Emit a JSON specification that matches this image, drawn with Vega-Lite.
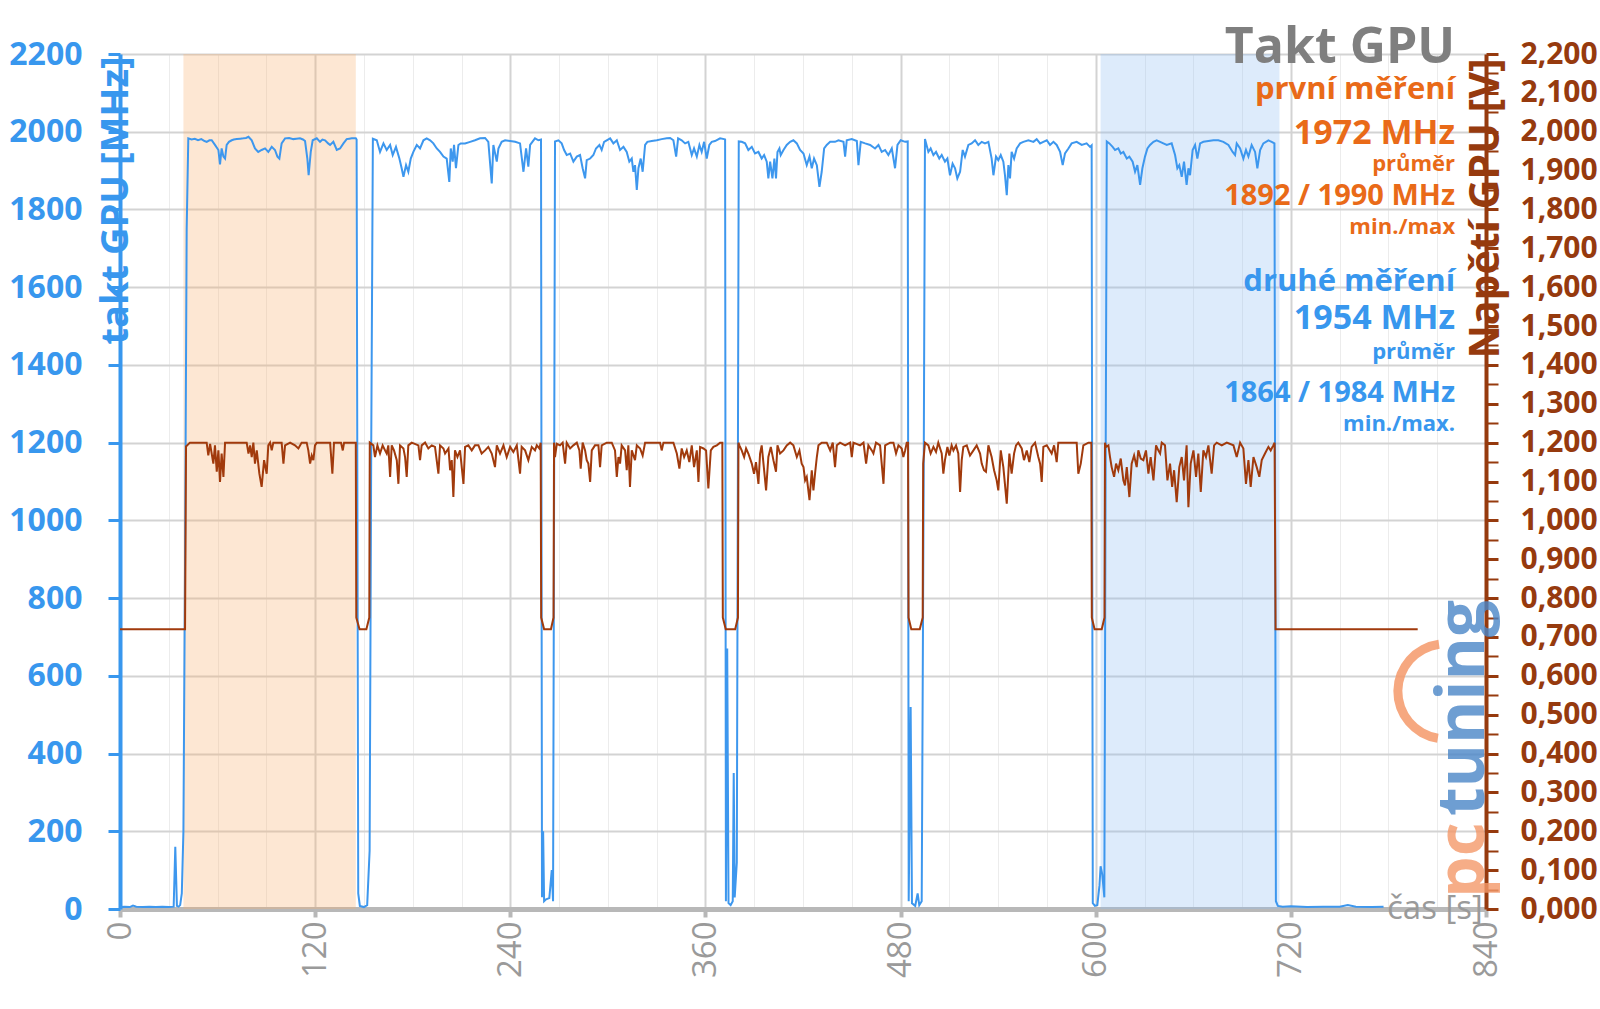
{
"$schema": "https://vega.github.io/schema/vega-lite/v6.json",
"width": 1366, "height": 855,
"autosize": {"type": "none"},
"padding": {"left": 120, "top": 54, "right": 114, "bottom": 100},
"background": "white",
"config": {"view": {"stroke": null}},
"datasets": {
"one": [{}],
"bands": [{"start": 39, "end": 145, "run": "první měření"}, {"start": 603, "end": 713, "run": "druhé měření"}],
"clock": [
{"t":0,"mhz":5},{"t":3,"mhz":6},{"t":6,"mhz":5},{"t":8,"mhz":9},{"t":10,"mhz":6},{"t":14,"mhz":5},{"t":18,"mhz":6},{"t":22,"mhz":5},{"t":26,"mhz":6},{"t":30,"mhz":5},{"t":33,"mhz":6},{"t":34,"mhz":160},{"t":35,"mhz":8},{"t":36,"mhz":6},{"t":37,"mhz":10},{"t":38,"mhz":40},{"t":39,"mhz":200},{"t":40,"mhz":900},{"t":41,"mhz":1750},{"t":42,"mhz":1983},
{"t":44,"mhz":1980},{"t":46,"mhz":1982},{"t":48,"mhz":1978},{"t":50,"mhz":1981},{"t":52,"mhz":1976},{"t":53.3,"mhz":1974},{"t":55,"mhz":1978},{"t":56.4,"mhz":1978},{"t":58.4,"mhz":1966},{"t":60.5,"mhz":1953},{"t":61.5,"mhz":1916},{"t":62.5,"mhz":1957},{"t":63.6,"mhz":1936},{"t":64.6,"mhz":1931},{"t":65.6,"mhz":1966},{"t":67,"mhz":1974},{"t":68.7,"mhz":1978},{"t":70,"mhz":1980},{"t":71.8,"mhz":1981},{"t":74,"mhz":1982},{"t":75.9,"mhz":1983},{"t":77.5,"mhz":1984},{"t":79,"mhz":1987},{"t":81,"mhz":1978},{"t":83,"mhz":1957},{"t":85,"mhz":1948},{"t":87.1,"mhz":1953},{"t":89.2,"mhz":1957},{"t":91.2,"mhz":1948},{"t":93.3,"mhz":1961},{"t":95.3,"mhz":1953},{"t":96.8,"mhz":1936},{"t":98,"mhz":1931},{"t":99.4,"mhz":1970},{"t":101.5,"mhz":1983},{"t":104,"mhz":1984},{"t":106.6,"mhz":1981},{"t":108.5,"mhz":1982},{"t":110.7,"mhz":1983},{"t":112.5,"mhz":1980},{"t":113.8,"mhz":1976},{"t":115.2,"mhz":1931},{"t":116,"mhz":1888},{"t":117.3,"mhz":1948},{"t":118.5,"mhz":1978},{"t":121,"mhz":1983},{"t":123,"mhz":1974},{"t":124.5,"mhz":1980},{"t":126.1,"mhz":1978},{"t":128,"mhz":1970},{"t":129.2,"mhz":1966},{"t":131.2,"mhz":1974},{"t":133.3,"mhz":1953},{"t":135.3,"mhz":1957},{"t":137.4,"mhz":1970},{"t":139.4,"mhz":1981},{"t":141,"mhz":1982},{"t":142.5,"mhz":1983},{"t":145,"mhz":1983},{"t":145.5,"mhz":1980},{"t":146.5,"mhz":40},{"t":147.5,"mhz":8},{"t":150,"mhz":5},{"t":152,"mhz":10},{"t":153.5,"mhz":150},{"t":154.5,"mhz":1200},{"t":155.5,"mhz":1982},
{"t":157.9,"mhz":1978},{"t":159.9,"mhz":1948},{"t":162,"mhz":1970},{"t":164,"mhz":1953},{"t":166.1,"mhz":1966},{"t":167.7,"mhz":1940},{"t":169.7,"mhz":1961},{"t":171.8,"mhz":1931},{"t":173.2,"mhz":1906},{"t":174.3,"mhz":1884},{"t":175.9,"mhz":1914},{"t":177.3,"mhz":1897},{"t":178.8,"mhz":1931},{"t":180.4,"mhz":1948},{"t":182.5,"mhz":1966},{"t":184.5,"mhz":1957},{"t":186.6,"mhz":1978},{"t":188.6,"mhz":1983},{"t":190.7,"mhz":1978},{"t":192.7,"mhz":1970},{"t":194.8,"mhz":1957},{"t":196.8,"mhz":1948},{"t":198.9,"mhz":1936},{"t":200.9,"mhz":1931},{"t":202.5,"mhz":1871},{"t":203.4,"mhz":1957},{"t":204.6,"mhz":1923},{"t":205.4,"mhz":1966},{"t":206.6,"mhz":1906},{"t":208.1,"mhz":1966},{"t":209.5,"mhz":1970},{"t":212.2,"mhz":1970},{"t":215.3,"mhz":1974},{"t":218.3,"mhz":1978},{"t":221.4,"mhz":1983},{"t":224.5,"mhz":1984},{"t":226.5,"mhz":1974},{"t":228.6,"mhz":1867},{"t":229.6,"mhz":1966},{"t":231.7,"mhz":1923},{"t":232.7,"mhz":1957},{"t":234.7,"mhz":1974},{"t":236.8,"mhz":1978},{"t":239.9,"mhz":1976},{"t":243,"mhz":1974},{"t":246,"mhz":1970},{"t":248.1,"mhz":1897},{"t":249.7,"mhz":1957},{"t":251.1,"mhz":1910},{"t":252.2,"mhz":1966},{"t":255.2,"mhz":1983},{"t":257.3,"mhz":1978},{"t":258.9,"mhz":1980},{"t":259.5,"mhz":30},{"t":260.2,"mhz":200},{"t":260.8,"mhz":20},{"t":262,"mhz":25},{"t":264,"mhz":28},{"t":265.5,"mhz":100},{"t":266.3,"mhz":20},{"t":267.5,"mhz":1975},
{"t":269.6,"mhz":1978},{"t":271.6,"mhz":1970},{"t":273.1,"mhz":1953},{"t":274.7,"mhz":1940},{"t":276.8,"mhz":1944},{"t":278.8,"mhz":1923},{"t":280.9,"mhz":1936},{"t":282.9,"mhz":1940},{"t":284.5,"mhz":1906},{"t":286,"mhz":1880},{"t":287,"mhz":1927},{"t":289.1,"mhz":1931},{"t":291.1,"mhz":1940},{"t":292.7,"mhz":1957},{"t":294.8,"mhz":1966},{"t":296.2,"mhz":1953},{"t":297.7,"mhz":1974},{"t":299.3,"mhz":1978},{"t":301.4,"mhz":1983},{"t":303.4,"mhz":1970},{"t":305.5,"mhz":1978},{"t":307.5,"mhz":1953},{"t":309.6,"mhz":1961},{"t":311.6,"mhz":1948},{"t":313.2,"mhz":1923},{"t":314.7,"mhz":1931},{"t":315.7,"mhz":1897},{"t":316.7,"mhz":1914},{"t":317.8,"mhz":1850},{"t":318.8,"mhz":1906},{"t":320.2,"mhz":1931},{"t":321.4,"mhz":1897},{"t":322.9,"mhz":1966},{"t":324.3,"mhz":1974},{"t":327,"mhz":1976},{"t":330.1,"mhz":1978},{"t":333.1,"mhz":1981},{"t":336.2,"mhz":1983},{"t":338.3,"mhz":1984},{"t":340.3,"mhz":1978},{"t":342,"mhz":1936},{"t":343.2,"mhz":1983},{"t":345.4,"mhz":1978},{"t":347.5,"mhz":1970},{"t":349.5,"mhz":1974},{"t":351.6,"mhz":1940},{"t":353,"mhz":1957},{"t":354.7,"mhz":1936},{"t":356.3,"mhz":1966},{"t":357.7,"mhz":1948},{"t":359.2,"mhz":1974},{"t":360.8,"mhz":1931},{"t":362.4,"mhz":1966},{"t":363.9,"mhz":1974},{"t":365.9,"mhz":1976},{"t":369,"mhz":1983},{"t":371.5,"mhz":1981},{"t":372.1,"mhz":1980},{"t":372.6,"mhz":20},{"t":373.4,"mhz":670},{"t":374.2,"mhz":15},{"t":375.5,"mhz":10},{"t":376.8,"mhz":20},{"t":377.4,"mhz":350},{"t":378,"mhz":30},{"t":379.3,"mhz":120},{"t":380.5,"mhz":1975},
{"t":382.3,"mhz":1974},{"t":384.4,"mhz":1970},{"t":386.4,"mhz":1953},{"t":388.5,"mhz":1961},{"t":390.5,"mhz":1944},{"t":392.6,"mhz":1948},{"t":394.6,"mhz":1931},{"t":396.1,"mhz":1940},{"t":397.7,"mhz":1923},{"t":398.7,"mhz":1880},{"t":399.8,"mhz":1923},{"t":401.2,"mhz":1880},{"t":402.4,"mhz":1931},{"t":403.4,"mhz":1880},{"t":404.3,"mhz":1948},{"t":405.5,"mhz":1957},{"t":406.3,"mhz":1940},{"t":408,"mhz":1953},{"t":410,"mhz":1966},{"t":412.1,"mhz":1974},{"t":414.1,"mhz":1978},{"t":416.2,"mhz":1970},{"t":418.2,"mhz":1953},{"t":420.3,"mhz":1944},{"t":422.3,"mhz":1914},{"t":424,"mhz":1936},{"t":425.4,"mhz":1906},{"t":426.8,"mhz":1931},{"t":428.5,"mhz":1914},{"t":430.1,"mhz":1858},{"t":431.5,"mhz":1897},{"t":433,"mhz":1957},{"t":434.6,"mhz":1966},{"t":436.7,"mhz":1974},{"t":439.7,"mhz":1974},{"t":441.8,"mhz":1978},{"t":444.9,"mhz":1974},{"t":445.9,"mhz":1936},{"t":446.9,"mhz":1978},{"t":450,"mhz":1981},{"t":453.1,"mhz":1976},{"t":454.1,"mhz":1914},{"t":455.5,"mhz":1974},{"t":458.2,"mhz":1970},{"t":461.3,"mhz":1966},{"t":464.3,"mhz":1957},{"t":466.4,"mhz":1966},{"t":468.4,"mhz":1948},{"t":470.5,"mhz":1953},{"t":472.5,"mhz":1940},{"t":474.6,"mhz":1957},{"t":476.6,"mhz":1906},{"t":478.1,"mhz":1966},{"t":480.1,"mhz":1978},{"t":482.8,"mhz":1974},{"t":484.4,"mhz":1975},{"t":485,"mhz":20},{"t":486.2,"mhz":520},{"t":487,"mhz":15},{"t":489,"mhz":8},{"t":490.5,"mhz":40},{"t":491.5,"mhz":10},{"t":493,"mhz":20},{"t":494.3,"mhz":1200},{"t":495,"mhz":1981},
{"t":497.1,"mhz":1948},{"t":498.5,"mhz":1957},{"t":500.2,"mhz":1940},{"t":501.8,"mhz":1948},{"t":503.8,"mhz":1931},{"t":505.3,"mhz":1940},{"t":507.3,"mhz":1923},{"t":508.8,"mhz":1931},{"t":510.4,"mhz":1888},{"t":512,"mhz":1918},{"t":513.5,"mhz":1906},{"t":514.9,"mhz":1880},{"t":516.6,"mhz":1897},{"t":518.2,"mhz":1953},{"t":519.6,"mhz":1936},{"t":521.7,"mhz":1966},{"t":523.7,"mhz":1970},{"t":525.8,"mhz":1978},{"t":527.8,"mhz":1966},{"t":529.9,"mhz":1974},{"t":531.9,"mhz":1970},{"t":534,"mhz":1974},{"t":536,"mhz":1931},{"t":537.1,"mhz":1888},{"t":538.7,"mhz":1936},{"t":540.1,"mhz":1927},{"t":541.6,"mhz":1940},{"t":543.2,"mhz":1923},{"t":544.2,"mhz":1888},{"t":545.3,"mhz":1837},{"t":546.3,"mhz":1914},{"t":547.3,"mhz":1880},{"t":548.3,"mhz":1948},{"t":549.8,"mhz":1931},{"t":551.4,"mhz":1957},{"t":553.5,"mhz":1970},{"t":555.5,"mhz":1974},{"t":558.6,"mhz":1978},{"t":561.7,"mhz":1974},{"t":563.7,"mhz":1981},{"t":565.8,"mhz":1970},{"t":567.8,"mhz":1974},{"t":569.9,"mhz":1978},{"t":571.9,"mhz":1966},{"t":574,"mhz":1974},{"t":576,"mhz":1966},{"t":578.1,"mhz":1948},{"t":579.7,"mhz":1914},{"t":581.1,"mhz":1944},{"t":583.2,"mhz":1957},{"t":585.2,"mhz":1970},{"t":588.3,"mhz":1974},{"t":591.4,"mhz":1966},{"t":594.4,"mhz":1970},{"t":596.5,"mhz":1961},{"t":597.5,"mhz":1965},{"t":598.2,"mhz":15},{"t":599.5,"mhz":8},{"t":601,"mhz":10},{"t":602.3,"mhz":60},{"t":603,"mhz":110},{"t":604,"mhz":90},{"t":605.3,"mhz":30},{"t":606,"mhz":1000},{"t":606.8,"mhz":1975},
{"t":608.4,"mhz":1970},{"t":610.4,"mhz":1961},{"t":611.9,"mhz":1953},{"t":613.9,"mhz":1957},{"t":615.4,"mhz":1944},{"t":617,"mhz":1948},{"t":619.1,"mhz":1931},{"t":620.7,"mhz":1936},{"t":622.7,"mhz":1923},{"t":624.2,"mhz":1897},{"t":625.6,"mhz":1914},{"t":627.3,"mhz":1863},{"t":628.7,"mhz":1906},{"t":630.3,"mhz":1936},{"t":631.8,"mhz":1957},{"t":633.4,"mhz":1966},{"t":635.5,"mhz":1974},{"t":637.5,"mhz":1978},{"t":639.6,"mhz":1974},{"t":641.6,"mhz":1970},{"t":643.7,"mhz":1966},{"t":646.7,"mhz":1970},{"t":648.8,"mhz":1940},{"t":650.2,"mhz":1906},{"t":651.4,"mhz":1914},{"t":652.9,"mhz":1884},{"t":654.3,"mhz":1923},{"t":655.9,"mhz":1863},{"t":657,"mhz":1906},{"t":658,"mhz":1888},{"t":659.6,"mhz":1953},{"t":661.1,"mhz":1966},{"t":662.5,"mhz":1931},{"t":664.2,"mhz":1970},{"t":666.2,"mhz":1974},{"t":669.3,"mhz":1976},{"t":672.4,"mhz":1978},{"t":675.4,"mhz":1978},{"t":678.5,"mhz":1974},{"t":681.6,"mhz":1966},{"t":684.2,"mhz":1948},{"t":685.7,"mhz":1940},{"t":686.7,"mhz":1970},{"t":688.8,"mhz":1957},{"t":690.8,"mhz":1931},{"t":692.4,"mhz":1953},{"t":693.9,"mhz":1936},{"t":695.9,"mhz":1966},{"t":698,"mhz":1948},{"t":699.4,"mhz":1906},{"t":701.1,"mhz":1953},{"t":703.1,"mhz":1970},{"t":706.2,"mhz":1978},{"t":708.2,"mhz":1974},{"t":709.9,"mhz":1970},{"t":710.8,"mhz":20},{"t":712,"mhz":8},{"t":715,"mhz":6},{"t":720,"mhz":7},{"t":730,"mhz":5},{"t":740,"mhz":6},{"t":750,"mhz":6},{"t":755,"mhz":10},{"t":760,"mhz":6},{"t":770,"mhz":5},{"t":777,"mhz":6}
],
"volt": [
{"t":0,"v":0.72},{"t":40,"v":0.72},{"t":40.6,"v":1.19},{"t":43,"v":1.2},{"t":53.3,"v":1.2},{"t":54.3,"v":1.167},{"t":55.4,"v":1.197},{"t":57.4,"v":1.146},{"t":58.4,"v":1.193},{"t":59.5,"v":1.125},{"t":60.5,"v":1.18},{"t":61.5,"v":1.099},{"t":62.5,"v":1.172},{"t":63.6,"v":1.112},{"t":64.6,"v":1.2},{"t":77.9,"v":1.2},{"t":79,"v":1.172},{"t":80,"v":1.193},{"t":81,"v":1.163},{"t":82,"v":1.2},{"t":83,"v":1.146},{"t":84.1,"v":1.18},{"t":85.7,"v":1.12},{"t":87.1,"v":1.086},{"t":88.6,"v":1.155},{"t":90.2,"v":1.12},{"t":91.2,"v":1.193},{"t":92.3,"v":1.2},{"t":93.3,"v":1.18},{"t":94.3,"v":1.2},{"t":99.4,"v":1.2},{"t":100.5,"v":1.146},{"t":101.5,"v":1.193},{"t":104.6,"v":1.2},{"t":107.6,"v":1.193},{"t":109.7,"v":1.185},{"t":111.7,"v":1.2},{"t":114.8,"v":1.2},{"t":115.8,"v":1.18},{"t":116.9,"v":1.146},{"t":117.9,"v":1.167},{"t":118.9,"v":1.155},{"t":119.9,"v":1.193},{"t":121,"v":1.2},{"t":129.2,"v":1.2},{"t":130.6,"v":1.12},{"t":131.6,"v":1.2},{"t":135.9,"v":1.2},{"t":137,"v":1.18},{"t":137.8,"v":1.2},{"t":145,"v":1.2},{"t":145.3,"v":0.75},{"t":147.3,"v":0.72},{"t":151.5,"v":0.72},{"t":153.3,"v":0.75},{"t":153.6,"v":1.2},
{"t":155.8,"v":1.193},{"t":156.8,"v":1.163},{"t":158.3,"v":1.193},{"t":159.9,"v":1.172},{"t":161.5,"v":1.193},{"t":163,"v":1.18},{"t":164,"v":1.172},{"t":165,"v":1.193},{"t":166.1,"v":1.112},{"t":167.1,"v":1.193},{"t":168.5,"v":1.18},{"t":170.2,"v":1.155},{"t":171.2,"v":1.094},{"t":172.2,"v":1.193},{"t":174.3,"v":1.185},{"t":175.3,"v":1.163},{"t":176.3,"v":1.112},{"t":177.3,"v":1.193},{"t":179.4,"v":1.2},{"t":183.5,"v":1.193},{"t":184.5,"v":1.155},{"t":185.5,"v":1.193},{"t":187.6,"v":1.2},{"t":189.6,"v":1.185},{"t":191.7,"v":1.193},{"t":193.7,"v":1.189},{"t":195.8,"v":1.12},{"t":196.8,"v":1.193},{"t":198.9,"v":1.185},{"t":199.9,"v":1.172},{"t":202,"v":1.185},{"t":203,"v":1.129},{"t":204,"v":1.155},{"t":205,"v":1.06},{"t":206,"v":1.18},{"t":207.5,"v":1.163},{"t":209.1,"v":1.18},{"t":211.2,"v":1.094},{"t":212.2,"v":1.189},{"t":214.2,"v":1.193},{"t":216.3,"v":1.18},{"t":218.3,"v":1.193},{"t":220.4,"v":1.193},{"t":222.4,"v":1.172},{"t":224.5,"v":1.18},{"t":226.5,"v":1.189},{"t":228.6,"v":1.172},{"t":230.6,"v":1.137},{"t":231.7,"v":1.193},{"t":233.7,"v":1.172},{"t":235.8,"v":1.193},{"t":237.8,"v":1.163},{"t":239.9,"v":1.189},{"t":241.9,"v":1.176},{"t":244,"v":1.193},{"t":246,"v":1.12},{"t":247,"v":1.189},{"t":249.1,"v":1.18},{"t":251.1,"v":1.155},{"t":253.2,"v":1.189},{"t":255.2,"v":1.18},{"t":256.3,"v":1.193},{"t":257.9,"v":1.185},{"t":258.7,"v":1.2},{"t":259,"v":0.75},{"t":260.8,"v":0.72},{"t":265,"v":0.72},{"t":266.6,"v":0.75},{"t":266.9,"v":1.2},
{"t":267.5,"v":1.163},{"t":268.6,"v":1.197},{"t":270.6,"v":1.193},{"t":272.2,"v":1.2},{"t":273.7,"v":1.146},{"t":274.7,"v":1.2},{"t":276.8,"v":1.185},{"t":278.8,"v":1.193},{"t":280.9,"v":1.2},{"t":282.5,"v":1.18},{"t":283.3,"v":1.133},{"t":284.5,"v":1.2},{"t":286,"v":1.18},{"t":287,"v":1.155},{"t":288,"v":1.146},{"t":289.1,"v":1.099},{"t":290.1,"v":1.18},{"t":292.1,"v":1.193},{"t":294.2,"v":1.193},{"t":295.2,"v":1.137},{"t":296.2,"v":1.193},{"t":299.3,"v":1.2},{"t":302.4,"v":1.2},{"t":304.4,"v":1.18},{"t":305.5,"v":1.112},{"t":306.5,"v":1.163},{"t":307.5,"v":1.146},{"t":308.5,"v":1.193},{"t":310.6,"v":1.18},{"t":311.6,"v":1.129},{"t":312.6,"v":1.193},{"t":313.6,"v":1.086},{"t":314.7,"v":1.18},{"t":316.7,"v":1.155},{"t":317.8,"v":1.193},{"t":319.8,"v":1.185},{"t":321.4,"v":1.167},{"t":322.9,"v":1.2},{"t":332.1,"v":1.2},{"t":333.1,"v":1.18},{"t":334.2,"v":1.2},{"t":340.3,"v":1.2},{"t":342.4,"v":1.172},{"t":344,"v":1.133},{"t":345.4,"v":1.185},{"t":346.9,"v":1.163},{"t":348.5,"v":1.18},{"t":350.1,"v":1.15},{"t":351.6,"v":1.193},{"t":353,"v":1.137},{"t":354.7,"v":1.18},{"t":355.7,"v":1.099},{"t":356.7,"v":1.189},{"t":358.8,"v":1.185},{"t":360.4,"v":1.18},{"t":361.8,"v":1.082},{"t":363.3,"v":1.18},{"t":364.9,"v":1.189},{"t":367,"v":1.193},{"t":369,"v":1.2},{"t":370.4,"v":1.2},{"t":370.7,"v":0.75},{"t":372.5,"v":0.72},{"t":378.3,"v":0.72},{"t":380,"v":0.75},{"t":380.3,"v":1.2},
{"t":380.9,"v":1.193},{"t":382.3,"v":1.18},{"t":383.8,"v":1.163},{"t":385,"v":1.185},{"t":386.4,"v":1.172},{"t":388.5,"v":1.146},{"t":389.9,"v":1.12},{"t":391.1,"v":1.15},{"t":392.6,"v":1.094},{"t":393.6,"v":1.172},{"t":394.6,"v":1.193},{"t":395.7,"v":1.146},{"t":397.3,"v":1.077},{"t":398.7,"v":1.163},{"t":400.2,"v":1.189},{"t":401.8,"v":1.155},{"t":403.4,"v":1.125},{"t":404.3,"v":1.193},{"t":405.9,"v":1.172},{"t":408,"v":1.18},{"t":410,"v":1.193},{"t":412.1,"v":1.2},{"t":414.1,"v":1.193},{"t":416.2,"v":1.163},{"t":417.8,"v":1.18},{"t":419.2,"v":1.146},{"t":420.3,"v":1.137},{"t":421.3,"v":1.103},{"t":422.3,"v":1.112},{"t":424,"v":1.052},{"t":425.4,"v":1.129},{"t":426.4,"v":1.077},{"t":427.4,"v":1.12},{"t":428.5,"v":1.163},{"t":429.5,"v":1.193},{"t":431.5,"v":1.2},{"t":434.6,"v":1.2},{"t":436.7,"v":1.18},{"t":438.3,"v":1.2},{"t":439.7,"v":1.137},{"t":440.8,"v":1.193},{"t":442.8,"v":1.2},{"t":445.9,"v":1.193},{"t":449,"v":1.2},{"t":450,"v":1.163},{"t":451,"v":1.2},{"t":455.1,"v":1.193},{"t":457.2,"v":1.2},{"t":458.8,"v":1.146},{"t":460.2,"v":1.193},{"t":462.3,"v":1.18},{"t":463.3,"v":1.172},{"t":464.9,"v":1.2},{"t":467.4,"v":1.193},{"t":469.5,"v":1.094},{"t":470.5,"v":1.193},{"t":473.6,"v":1.2},{"t":475.6,"v":1.2},{"t":477.2,"v":1.172},{"t":478.7,"v":1.193},{"t":480.7,"v":1.185},{"t":481.7,"v":1.163},{"t":482.8,"v":1.18},{"t":483.8,"v":1.2},{"t":484.6,"v":1.2},{"t":484.9,"v":0.75},{"t":486.6,"v":0.72},{"t":491.8,"v":0.72},{"t":493.6,"v":0.75},{"t":493.9,"v":1.146},
{"t":495,"v":1.2},{"t":497.1,"v":1.193},{"t":498.5,"v":1.172},{"t":500.2,"v":1.189},{"t":501.8,"v":1.176},{"t":503.2,"v":1.2},{"t":505.3,"v":1.172},{"t":506.3,"v":1.12},{"t":507.3,"v":1.155},{"t":508.8,"v":1.189},{"t":510,"v":1.167},{"t":511.4,"v":1.193},{"t":512.5,"v":1.18},{"t":514.1,"v":1.193},{"t":515.5,"v":1.172},{"t":516.6,"v":1.073},{"t":517.6,"v":1.155},{"t":518.6,"v":1.189},{"t":520.7,"v":1.193},{"t":522.7,"v":1.167},{"t":524.8,"v":1.18},{"t":526.8,"v":1.193},{"t":528.9,"v":1.172},{"t":529.9,"v":1.146},{"t":531.3,"v":1.129},{"t":532.5,"v":1.125},{"t":534,"v":1.193},{"t":536,"v":1.163},{"t":537.5,"v":1.129},{"t":539.1,"v":1.103},{"t":540.1,"v":1.077},{"t":541.6,"v":1.18},{"t":543.2,"v":1.137},{"t":545.3,"v":1.043},{"t":546.9,"v":1.172},{"t":548.3,"v":1.12},{"t":549.8,"v":1.172},{"t":551,"v":1.193},{"t":552.4,"v":1.2},{"t":554.5,"v":1.185},{"t":555.9,"v":1.155},{"t":557.6,"v":1.18},{"t":559.2,"v":1.15},{"t":560.6,"v":1.189},{"t":562.7,"v":1.2},{"t":564.7,"v":1.163},{"t":565.8,"v":1.146},{"t":566.8,"v":1.099},{"t":567.8,"v":1.189},{"t":569.9,"v":1.193},{"t":572.9,"v":1.172},{"t":574.4,"v":1.193},{"t":576,"v":1.15},{"t":577,"v":1.2},{"t":588.3,"v":1.2},{"t":589.3,"v":1.12},{"t":590.8,"v":1.146},{"t":592.4,"v":1.193},{"t":595.5,"v":1.2},{"t":597.3,"v":1.2},{"t":597.6,"v":0.75},{"t":599.3,"v":0.72},{"t":603.7,"v":0.72},{"t":605.4,"v":0.75},{"t":605.7,"v":1.2},
{"t":606.3,"v":1.189},{"t":607.8,"v":1.193},{"t":608.8,"v":1.163},{"t":609.8,"v":1.137},{"t":611.3,"v":1.112},{"t":612.5,"v":1.146},{"t":613.9,"v":1.129},{"t":615.4,"v":1.159},{"t":617,"v":1.103},{"t":618,"v":1.09},{"t":619.1,"v":1.137},{"t":620.7,"v":1.06},{"t":622.1,"v":1.146},{"t":623.6,"v":1.167},{"t":625.2,"v":1.137},{"t":626.2,"v":1.18},{"t":627.7,"v":1.159},{"t":629.3,"v":1.155},{"t":630.9,"v":1.18},{"t":632.4,"v":1.12},{"t":633.8,"v":1.163},{"t":635.5,"v":1.103},{"t":637.1,"v":1.193},{"t":638.5,"v":1.18},{"t":639.6,"v":1.172},{"t":640.6,"v":1.2},{"t":642.6,"v":1.193},{"t":644.1,"v":1.103},{"t":645.7,"v":1.146},{"t":647,"v":1.086},{"t":648.2,"v":1.129},{"t":649.8,"v":1.047},{"t":651.4,"v":1.137},{"t":652.9,"v":1.163},{"t":654.3,"v":1.103},{"t":655.9,"v":1.193},{"t":657,"v":1.034},{"t":658.4,"v":1.146},{"t":660.1,"v":1.18},{"t":661.7,"v":1.112},{"t":663.1,"v":1.172},{"t":664.6,"v":1.073},{"t":666.2,"v":1.18},{"t":667.8,"v":1.163},{"t":669.3,"v":1.193},{"t":671.3,"v":1.12},{"t":672.8,"v":1.193},{"t":674.4,"v":1.2},{"t":677.5,"v":1.193},{"t":680.6,"v":1.2},{"t":684.7,"v":1.193},{"t":686.7,"v":1.163},{"t":688.8,"v":1.2},{"t":690.8,"v":1.185},{"t":692.4,"v":1.094},{"t":693.9,"v":1.155},{"t":695.3,"v":1.086},{"t":697,"v":1.163},{"t":699,"v":1.137},{"t":700.6,"v":1.112},{"t":702.1,"v":1.155},{"t":704.1,"v":1.172},{"t":706.2,"v":1.189},{"t":707.6,"v":1.18},{"t":709.2,"v":1.193},{"t":710,"v":1.2},{"t":710.6,"v":0.72},{"t":798,"v":0.72}
]
},
"layer": [
{
"layer": [
{"data": {"name": "bands"},
 "mark": {"type": "rect", "opacity": 0.3},
 "encoding": {
  "x": {"field": "start", "type": "quantitative"},
  "x2": {"field": "end"},
  "color": {"field": "run", "type": "nominal", "scale": {"domain": ["první měření", "druhé měření"], "range": ["#F7B06C", "#8EBEF3"]}, "legend": null}
 }},
{"data": {"name": "clock"},
 "mark": {"type": "line", "color": "#3D97EE", "strokeWidth": 2},
 "encoding": {
  "x": {"field": "t", "type": "quantitative", "scale": {"domain": [0, 840], "nice": false, "zero": false},
   "axis": {"title": null, "values": [0,15,30,45,60,75,90,105,120,135,150,165,180,195,210,225,240,255,270,285,300,315,330,345,360,375,390,405,420,435,450,465,480,495,510,525,540,555,570,585,600,615,630,645,660,675,690,705,720,735,750,765,780,795,810,825,840],
    "labelExpr": "datum.value % 120 === 0 ? datum.label : ''",
    "labelAngle": 270, "labelAlign": "right", "labelBaseline": "middle", "labelFont": "Open Sans", "labelFontSize": 33, "labelColor": "#9a9a9a", "labelPadding": 4, "labelOverlap": false, "labelFlush": false, "labelBound": false,
    "tickSize": 8, "tickWidth": 4, "tickColor": "#b8b8b8",
    "tickOpacity": {"condition": {"test": "datum.value % 120 === 0", "value": 1}, "value": 0},
    "domainColor": "#b8b8b8", "domainWidth": 5,
    "grid": true,
    "gridColor": {"condition": {"test": "datum.value % 120 === 0", "value": "#d3d3d3"}, "value": "#ececec"},
    "gridWidth": {"condition": {"test": "datum.value % 120 === 0", "value": 2}, "value": 1}}},
  "y": {"field": "mhz", "type": "quantitative", "scale": {"domain": [0, 2200], "nice": false},
   "axis": {"title": "takt GPU [MHz]", "values": [0,50,100,150,200,250,300,350,400,450,500,550,600,650,700,750,800,850,900,950,1000,1050,1100,1150,1200,1250,1300,1350,1400,1450,1500,1550,1600,1650,1700,1750,1800,1850,1900,1950,2000,2050,2100,2150,2200],
    "format": "d",
    "labelExpr": "datum.value % 200 === 0 ? datum.label : ''",
    "labelFont": "Open Sans", "labelFontWeight": "bold", "labelFontSize": 32, "labelColor": "#3897EE", "labelPadding": 26, "labelOverlap": false, "labelFlush": false, "labelBound": false,
    "tickSize": 12, "tickColor": "#3897EE",
    "tickWidth": {"condition": {"test": "datum.value % 200 === 0", "value": 3}, "value": 2},
    "domainColor": "#3897EE", "domainWidth": 4,
    "grid": true,
    "gridColor": {"condition": {"test": "datum.value % 200 === 0", "value": "#d3d3d3"}, "value": "#ececec"},
    "gridWidth": {"condition": {"test": "datum.value % 200 === 0", "value": 2}, "value": 1},
    "titleFont": "Open Sans", "titleFontWeight": "bold", "titleFontSize": 38, "titleColor": "#3897EE",
    "titleAngle": 270, "titleAlign": "right", "titleBaseline": "alphabetic", "titleX": 7, "titleY": 2}}
 }},
{"data": {"name": "one"}, "mark": {"type": "text", "text": "Takt GPU", "align": "right", "baseline": "alphabetic", "font": "Open Sans", "fontWeight": "bold", "fontSize": 50, "color": "#7f7f7f"},
 "encoding": {"x": {"datum": 821}, "y": {"datum": 2177}}},
{"data": {"name": "one"}, "mark": {"type": "text", "text": "první měření", "align": "right", "baseline": "alphabetic", "font": "Open Sans", "fontWeight": "bold", "fontSize": 31, "color": "#E96A18"},
 "encoding": {"x": {"datum": 821}, "y": {"datum": 2084}}},
{"data": {"name": "one"}, "mark": {"type": "text", "text": "1972 MHz", "align": "right", "baseline": "alphabetic", "font": "Open Sans", "fontWeight": "bold", "fontSize": 34, "color": "#E96A18"},
 "encoding": {"x": {"datum": 821}, "y": {"datum": 1968}}},
{"data": {"name": "one"}, "mark": {"type": "text", "text": "průměr", "align": "right", "baseline": "alphabetic", "font": "Open Sans", "fontWeight": "bold", "fontSize": 22, "color": "#E96A18"},
 "encoding": {"x": {"datum": 821}, "y": {"datum": 1898}}},
{"data": {"name": "one"}, "mark": {"type": "text", "text": "1892 / 1990 MHz", "align": "right", "baseline": "alphabetic", "font": "Open Sans", "fontWeight": "bold", "fontSize": 29, "color": "#E96A18"},
 "encoding": {"x": {"datum": 821}, "y": {"datum": 1812}}},
{"data": {"name": "one"}, "mark": {"type": "text", "text": "min./max", "align": "right", "baseline": "alphabetic", "font": "Open Sans", "fontWeight": "bold", "fontSize": 22, "color": "#E96A18"},
 "encoding": {"x": {"datum": 821}, "y": {"datum": 1738}}},
{"data": {"name": "one"}, "mark": {"type": "text", "text": "druhé měření", "align": "right", "baseline": "alphabetic", "font": "Open Sans", "fontWeight": "bold", "fontSize": 31, "color": "#3897EE"},
 "encoding": {"x": {"datum": 821}, "y": {"datum": 1590}}},
{"data": {"name": "one"}, "mark": {"type": "text", "text": "1954 MHz", "align": "right", "baseline": "alphabetic", "font": "Open Sans", "fontWeight": "bold", "fontSize": 34, "color": "#3897EE"},
 "encoding": {"x": {"datum": 821}, "y": {"datum": 1492}}},
{"data": {"name": "one"}, "mark": {"type": "text", "text": "průměr", "align": "right", "baseline": "alphabetic", "font": "Open Sans", "fontWeight": "bold", "fontSize": 22, "color": "#3897EE"},
 "encoding": {"x": {"datum": 821}, "y": {"datum": 1416}}},
{"data": {"name": "one"}, "mark": {"type": "text", "text": "1864 / 1984 MHz", "align": "right", "baseline": "alphabetic", "font": "Open Sans", "fontWeight": "bold", "fontSize": 29, "color": "#3897EE"},
 "encoding": {"x": {"datum": 821}, "y": {"datum": 1304}}},
{"data": {"name": "one"}, "mark": {"type": "text", "text": "min./max.", "align": "right", "baseline": "alphabetic", "font": "Open Sans", "fontWeight": "bold", "fontSize": 22, "color": "#3897EE"},
 "encoding": {"x": {"datum": 821}, "y": {"datum": 1231}}},
{"data": {"name": "one"}, "mark": {"type": "arc", "radius": 52, "radius2": 43, "theta": 3.3, "theta2": 6.15, "color": "#F4996A", "opacity": 0.85},
 "encoding": {"x": {"datum": 815}, "y": {"datum": 560}}},
{"data": {"name": "one"}, "mark": {"type": "text", "text": "pc", "angle": 270, "align": "left", "baseline": "alphabetic", "font": "Open Sans", "fontWeight": "bold", "fontSize": 66, "color": "#F4996A", "opacity": 0.8},
 "encoding": {"x": {"datum": 839}, "y": {"datum": 28}}},
{"data": {"name": "one"}, "mark": {"type": "text", "text": "tuning", "angle": 270, "align": "left", "baseline": "alphabetic", "font": "Open Sans", "fontWeight": "bold", "fontSize": 66, "color": "#4A86C8", "opacity": 0.8},
 "encoding": {"x": {"datum": 839}, "y": {"datum": 239}}},
{"data": {"name": "one"}, "mark": {"type": "text", "text": "čas [s]", "align": "right", "baseline": "middle", "font": "Open Sans", "fontSize": 33, "color": "#9a9a9a"},
 "encoding": {"x": {"datum": 838}, "y": {"datum": 0}}}
]
},
{
"data": {"name": "volt"},
"mark": {"type": "line", "color": "#A13A0C", "strokeWidth": 2},
"encoding": {
 "x": {"field": "t", "type": "quantitative"},
 "y": {"field": "v", "type": "quantitative", "scale": {"domain": [0, 2.2], "nice": false},
  "axis": {"orient": "right", "title": "Napětí GPU [V]",
   "values": [0,0.05,0.1,0.15,0.2,0.25,0.3,0.35,0.4,0.45,0.5,0.55,0.6,0.65,0.7,0.75,0.8,0.85,0.9,0.95,1,1.05,1.1,1.15,1.2,1.25,1.3,1.35,1.4,1.45,1.5,1.55,1.6,1.65,1.7,1.75,1.8,1.85,1.9,1.95,2,2.05,2.1,2.15,2.2],
   "labelExpr": "round(datum.value*100) % 10 === 0 ? replace(format(datum.value, '.3f'), '.', ',') : ''",
   "labelFont": "Open Sans", "labelFontWeight": "bold", "labelFontSize": 30, "labelColor": "#963A0E", "labelPadding": 22, "labelOverlap": false, "labelFlush": false, "labelBound": false,
   "tickSize": 12, "tickColor": "#963A0E",
   "tickWidth": {"condition": {"test": "round(datum.value*100) % 10 === 0", "value": 3}, "value": 2},
   "domainColor": "#963A0E", "domainWidth": 4,
   "grid": false,
   "titleFont": "Open Sans", "titleFontWeight": "bold", "titleFontSize": 41, "titleColor": "#963A0E",
   "titleAngle": 270, "titleAlign": "right", "titleBaseline": "alphabetic", "titleX": 12, "titleY": 4}}
}
}
],
"resolve": {"scale": {"y": "independent"}}
}
